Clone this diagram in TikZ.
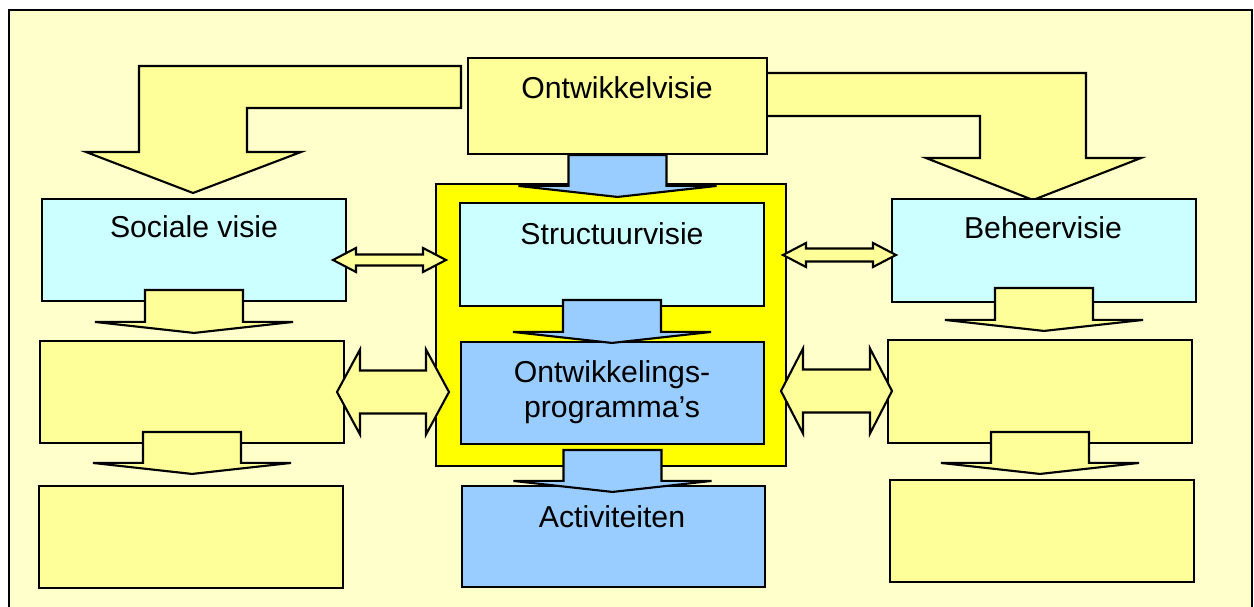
\documentclass[tikz,border=0pt]{standalone}
\usepackage{fontspec}
\setmainfont{Liberation Sans}
\usetikzlibrary{calc,fit,positioning}
\definecolor{paper}{HTML}{FFFFCC}
\definecolor{pale}{HTML}{FFFF99}
\definecolor{ice}{HTML}{CCFFFF}
\definecolor{sky}{HTML}{99CCFF}
\definecolor{lemon}{HTML}{FFFF00}
\tikzset{
	blockline/.style={draw=black, line width=1.2pt, line join=miter},
	box/.style={blockline, inner sep=0pt},
	lbl/.style={font=\fontsize{17.2}{19.8}\selectfont, align=center, inner sep=0pt},
}
% block arrow pointing down, from one box to the next
\newcommand{\downblock}[5]{%
	\draw[blockline, fill=#1]
		($(#2.south)+(-49,{-(#4)})$) -- ($(#2.south)+(49,{-(#4)})$)
		-- ($(#3.north -| #2.south)+(49,{-(#5)})$) -- ($(#3.north -| #2.south)+(99,{-(#5)})$)
		-- ($(#3.north -| #2.south)+(0,{11-(#5)})$) -- ($(#3.north -| #2.south)+(-99,{-(#5)})$)
		-- ($(#3.north -| #2.south)+(-49,{-(#5)})$) -- cycle;}
% two-headed block arrow: left x, right x, mid y, head half, shaft half, head length
\newcommand{\twoway}[6]{%
	\draw[blockline, fill=pale] (#1,#3) -- ({#1+#6},{#3-#4}) -- ({#1+#6},{#3-#5})
		-- ({#2-#6},{#3-#5}) -- ({#2-#6},{#3-#4}) -- (#2,#3) -- ({#2-#6},{#3+#4})
		-- ({#2-#6},{#3+#5}) -- ({#1+#6},{#3+#5}) -- ({#1+#6},{#3+#4}) -- cycle;}

\begin{document}
\begin{tikzpicture}[x=0.02cm, y=-0.02cm]
	\useasboundingbox (0,0) rectangle (1254,607);
	\draw[line width=1.1pt, fill=paper] (9,10) rectangle (1252,640);

	% bent arrows out of the top box
	\draw[blockline, fill=pale] (461,66) -- (139,66) -- (139,152) -- (86,152) -- (193,193) -- (301,152) -- (247,152) -- (247,108) -- (461,108) -- cycle;
	\draw[blockline, fill=pale] (765,73) -- (1086,73) -- (1086,158) -- (1141,158) -- (1033,200) -- (926,158) -- (980,158) -- (980,116) -- (765,116) -- cycle;

	\node[box, fill=pale, fit={(468,58) (767,154)}] (ontw) {};
	\node[box, fill=lemon, fit={(436,184) (786,466)}] (kern) {};
	\node[box, fill=ice, fit={(42,199) (346,301)}] (sociaal) {};
	\node[box, fill=ice, fit={(460,203) (764,306)}] (structuur) {};
	\node[box, fill=ice, fit={(892,199) (1196,302)}] (beheer) {};
	\node[box, fill=sky, fit={(461,342) (764,444)}] (programma) {};
	\node[box, fill=sky, fit={(462,486) (765,587)}] (activiteit) {};
	\node[box, fill=pale, fit={(40,341) (344,443)}] (links2) {};
	\node[box, fill=pale, fit={(39,486) (343,588)}] (links3) {};
	\node[box, fill=pale, fit={(888,340) (1192,443)}] (rechts2) {};
	\node[box, fill=pale, fit={(890,480) (1194,582)}] (rechts3) {};

	\downblock{pale}{sociaal}{links2}{12}{18}
	\downblock{pale}{links2}{links3}{12}{22}
	\downblock{sky}{ontw}{structuur}{0}{16}
	\downblock{sky}{structuur}{programma}{7}{9}
	\downblock{sky}{programma}{activiteit}{-5}{4}
	\downblock{pale}{beheer}{rechts2}{15}{19}
	\downblock{pale}{rechts2}{rechts3}{12}{16}

	\twoway{333}{446}{260}{12}{5.5}{23}
	\twoway{783}{896}{255}{12}{6.5}{23}
	\twoway{337}{449}{392}{42.5}{21.5}{23}
	\twoway{781}{892}{391}{42.5}{21.5}{22}

	\node[lbl, anchor=base] (ontwT) at (617,99) {Ontwikkelvisie};
	\node[lbl, anchor=base] (sociaalT) at (194,238) {Sociale visie};
	\node[lbl, anchor=base] (structuurT) at (612,245) {Structuurvisie};
	\node[lbl, anchor=base] (beheerT) at (1043,239) {Beheervisie};
	\node[lbl] (programmaT) at (612,392) {Ontwikkelings-\\programma’s};
	\node[lbl, anchor=base] (activiteitT) at (612,527) {Activiteiten};
\end{tikzpicture}
\end{document}
